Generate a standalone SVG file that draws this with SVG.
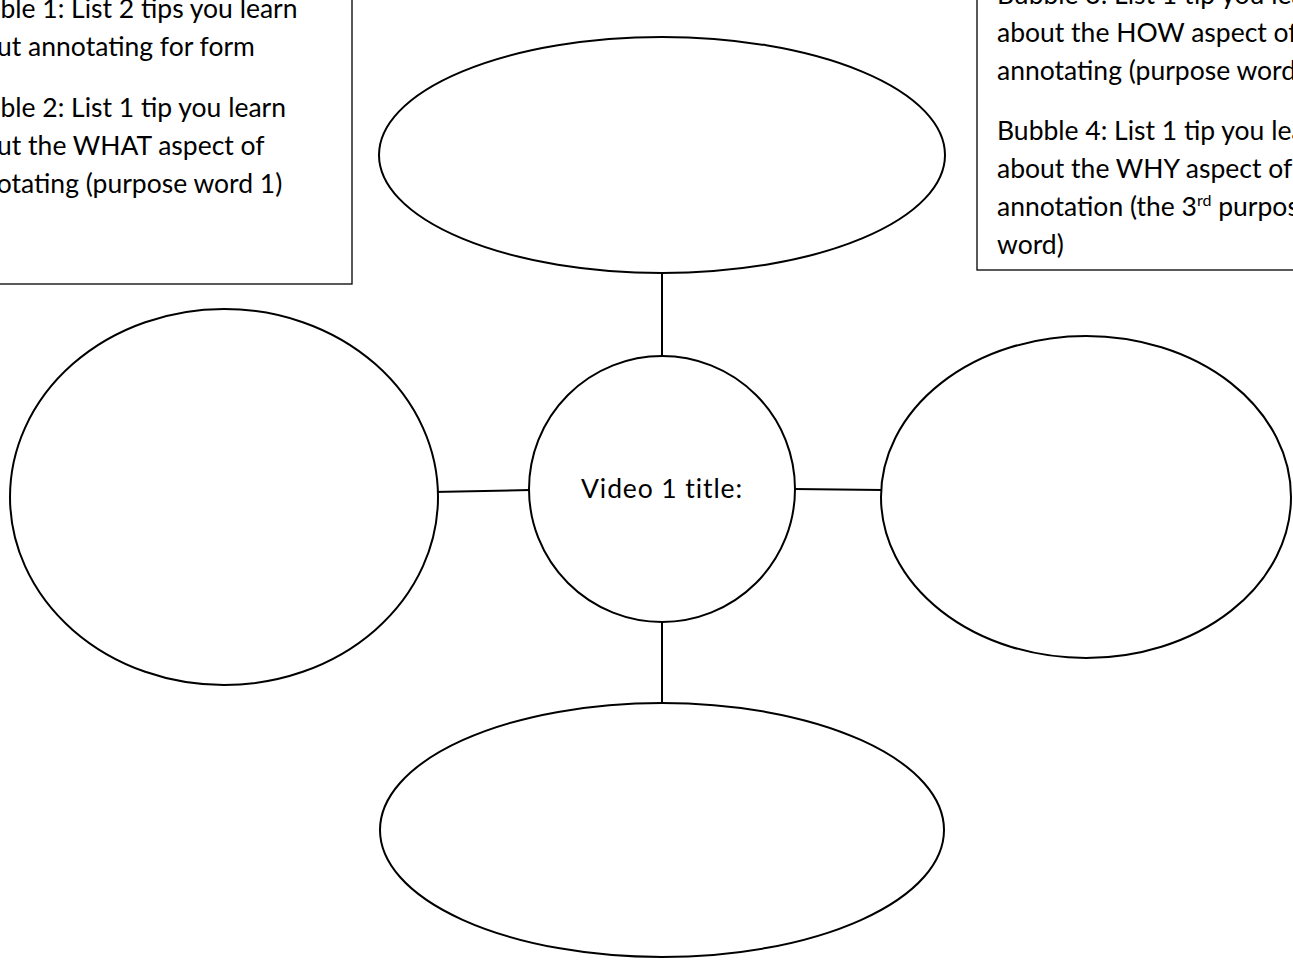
<svg xmlns="http://www.w3.org/2000/svg" width="1293" height="960" viewBox="0 0 1293 960">
<style>
.b{fill:#fff;stroke:#000;stroke-width:2}
.box{fill:#fff;stroke:#000;stroke-width:1.3}
.t{font-family:Lato,"Open Sans",sans-serif;font-size:26.5px;fill:#000}
.c line{stroke:#000;stroke-width:2}
</style>
<rect width="1293" height="960" fill="#fff"/>
<g id="note-left">
<rect class="box" x="-20" y="-20" width="372" height="304"/>
<text class="t" x="-46" y="18">Bubble 1: List 2 tips you learn</text>
<text class="t" x="-46" y="56">about annotating for form</text>
<text class="t" x="-46" y="117">Bubble 2: List 1 tip you learn</text>
<text class="t" x="-46" y="155">about the WHAT aspect of</text>
<text class="t" x="-46" y="193">annotating (purpose word 1)</text>
</g>
<g id="note-right">
<rect class="box" x="977" y="-20" width="340" height="290"/>
<text class="t" x="997" y="4">Bubble 3: List 1 tip you learn</text>
<text class="t" x="997" y="42">about the HOW aspect of</text>
<text class="t" x="997" y="80">annotating (purpose word 2)</text>
<text class="t" x="997" y="140">Bubble 4: List 1 tip you learn</text>
<text class="t" x="997" y="178">about the WHY aspect of</text>
<text class="t" x="997" y="216">annotation (the 3<tspan font-size="16" dy="-10">rd</tspan><tspan dy="10"> purpose</tspan></text>
<text class="t" x="997" y="254">word)</text>
</g>
<g class="c" id="connectors">
<line x1="662" y1="273" x2="662" y2="356"/>
<line x1="433" y1="492" x2="530" y2="490"/>
<line x1="794" y1="489" x2="882" y2="490"/>
<line x1="662" y1="622" x2="662" y2="704"/>
</g>
<g id="bubble-top"><ellipse class="b" cx="662" cy="155" rx="283" ry="118"/></g>
<g id="bubble-left"><ellipse class="b" cx="224" cy="497" rx="214" ry="188"/></g>
<g id="bubble-right"><ellipse class="b" cx="1086" cy="497" rx="205" ry="161"/></g>
<g id="bubble-bottom"><ellipse class="b" cx="662" cy="830" rx="282" ry="127"/></g>
<g id="center">
<circle class="b" cx="662" cy="489" r="133"/>
<text class="t" x="662" y="498" text-anchor="middle" font-size="32" letter-spacing="0.9">Video 1 title:</text>
</g>
</svg>
